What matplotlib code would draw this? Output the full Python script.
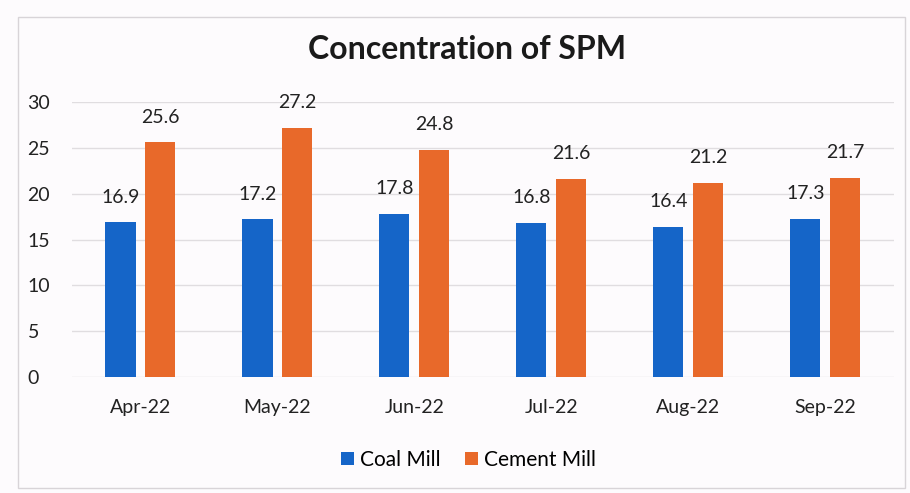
import numpy as np
import matplotlib.pyplot as plt

months = ["Apr-22", "May-22", "Jun-22", "Jul-22", "Aug-22", "Sep-22"]
coal_mill = [16.9, 17.2, 17.8, 16.8, 16.4, 17.3]
cement_mill = [25.6, 27.2, 24.8, 21.6, 21.2, 21.7]

BLUE = "#1565c8"
ORANGE = "#e8692a"
plt.rcParams["font.family"] = ["Lato", "DejaVu Sans"]

fig = plt.figure(figsize=(9.1, 4.93), dpi=100, facecolor="#fdfbfd")
ax = fig.add_axes([0.079, 0.235, 0.903, 0.558])
ax.set_facecolor("#fdfbfd")

x = np.arange(len(months))
w = 0.22
gap = 0.035
b1 = ax.bar(x - w / 2 - gap, coal_mill, w, color=BLUE, label="Coal Mill", zorder=3)
b2 = ax.bar(x + w / 2 + gap, cement_mill, w, color=ORANGE, label="Cement Mill", zorder=3)

# value labels above each bar
for bars, vals in ((b1, coal_mill), (b2, cement_mill)):
    for r, v in zip(bars, vals):
        ax.annotate(f"{v:.1f}", (r.get_x() + r.get_width() / 2, v),
                    xytext=(0, 12), textcoords="offset points",
                    ha="center", va="bottom", fontsize=14, color="#222222")

ax.set_xlim(-0.5, len(months) - 0.5)
ax.set_ylim(0, 30)
ax.set_yticks(range(0, 31, 5))
ax.set_xticks(x)
ax.set_xticklabels(months)
ax.tick_params(length=0, labelsize=14, colors="#222222")
ax.tick_params(axis="x", pad=16)
ax.tick_params(axis="y", pad=32)
for lbl in ax.get_yticklabels():
    lbl.set_horizontalalignment("left")
ax.grid(axis="y", color="#e0dde0", linewidth=1, zorder=0)
for s in ax.spines.values():
    s.set_visible(False)

fig.suptitle("Concentration of SPM", x=0.513, y=0.93, fontsize=23,
             fontweight="bold", color="#1a1a1a")
fig.legend(loc="center", bbox_to_anchor=(0.515, 0.067), ncol=2, frameon=False,
           fontsize=15, handlelength=0.6, handleheight=0.6, handletextpad=0.3,
           columnspacing=1.2)

fig.add_artist(plt.Rectangle((0.02, 0.01), 0.975, 0.955, transform=fig.transFigure,
                             fill=False, edgecolor="#d8d4d8", linewidth=1))

fig.savefig("out.png", dpi=100, facecolor=fig.get_facecolor())
